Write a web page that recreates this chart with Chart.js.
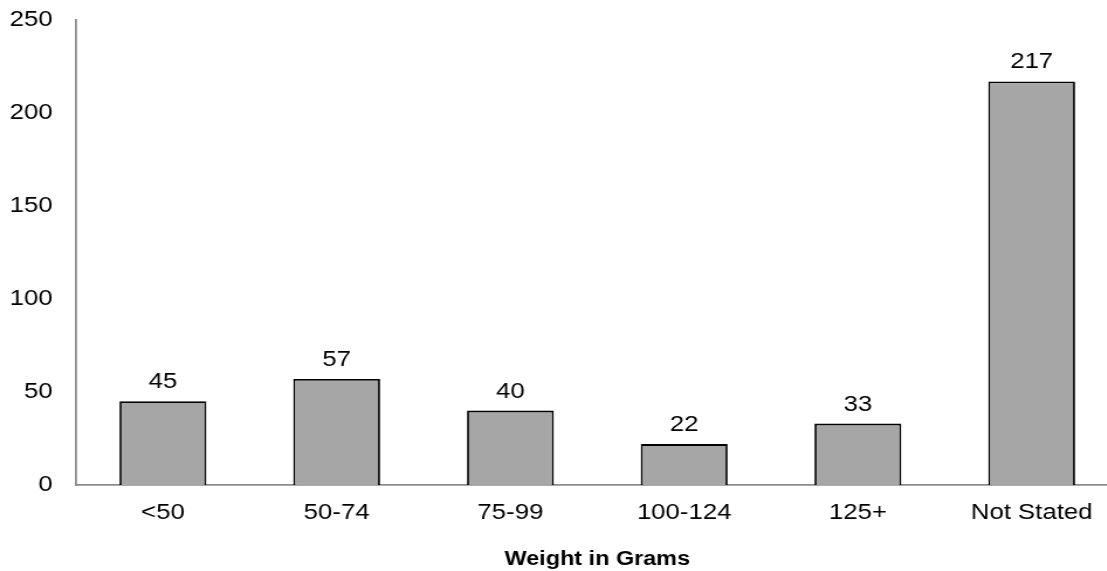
<!DOCTYPE html>
<html>
<head>
<meta charset="utf-8">
<script src="https://cdn.jsdelivr.net/npm/chart.js@4/dist/chart.umd.min.js"></script>
<style>
  html, body { margin: 0; padding: 0; background: #fff; overflow: hidden; }
  /* the reference is drawn slightly wide, so the chart is stretched sideways */
  #wrap { position: relative; width: 956px; height: 571px; transform: scaleX(1.17); transform-origin: 0 0; }
</style>
</head>
<body>
<div id="wrap"><canvas id="weightChart"></canvas></div>
<script>
// ==================== weight distribution bar chart ====================

const categories = ['<50', '50-74', '75-99', '100-124', '125+', 'Not Stated'];
const counts = [45, 57, 40, 22, 33, 217];
const yTicks = [0, 50, 100, 150, 200, 250];
const axisTitle = 'Weight in Grams';

const FONT = 'Arial, "Liberation Sans", sans-serif';

// value labels above each bar
const barValueLabels = {
  id: 'barValueLabels',
  afterDatasetsDraw(chart) {
    const ctx = chart.ctx;
    const meta = chart.getDatasetMeta(0);
    ctx.save();
    ctx.font = `22px ${FONT}`;
    ctx.fillStyle = '#000';
    ctx.textAlign = 'center';
    ctx.textBaseline = 'bottom';
    meta.data.forEach((bar, i) => {
      ctx.fillText(String(counts[i]), bar.x, bar.y - 8);
    });
    ctx.restore();
  }
};

new Chart(document.getElementById('weightChart'), {
  type: 'bar',
  data: {
    labels: categories,
    datasets: [{
      data: counts,
      backgroundColor: '#a6a6a6',
      borderColor: '#000',
      borderWidth: 1.8,
      barPercentage: 0.5,
      categoryPercentage: 1
    }]
  },
  options: {
    responsive: true,
    maintainAspectRatio: false,
    animation: false,
    layout: { padding: { top: 20, left: 0, right: 0, bottom: 0 } },
    plugins: {
      legend: { display: false },
      tooltip: { enabled: false }
    },
    scales: {
      x: {
        grid: { display: false, drawTicks: false },
        border: { display: true, color: '#8c8c8c', width: 1.8 },
        ticks: { color: '#000', font: { family: FONT, size: 22 }, padding: 15, maxRotation: 0 },
        title: {
          display: true,
          text: axisTitle,
          color: '#000',
          font: { family: FONT, size: 20, weight: 'bold' },
          padding: { top: 10, bottom: 0 }
        },
        afterFit(scale) {
          scale.height = 86;
          scale.paddingLeft = 0;
          scale.paddingRight = 0;
        }
      },
      y: {
        min: 0,
        max: 250,
        afterBuildTicks(scale) { scale.ticks = yTicks.map(v => ({ value: v })); },
        grid: { display: false, drawTicks: false },
        border: { display: true, color: '#8c8c8c', width: 1.8 },
        ticks: { color: '#000', font: { family: FONT, size: 22 }, padding: 20 },
        afterFit(scale) {
          scale.width = 65;
          scale.paddingTop = 0;
          scale.paddingBottom = 0;
        }
      }
    }
  },
  plugins: [barValueLabels]
});
</script>
</body>
</html>
